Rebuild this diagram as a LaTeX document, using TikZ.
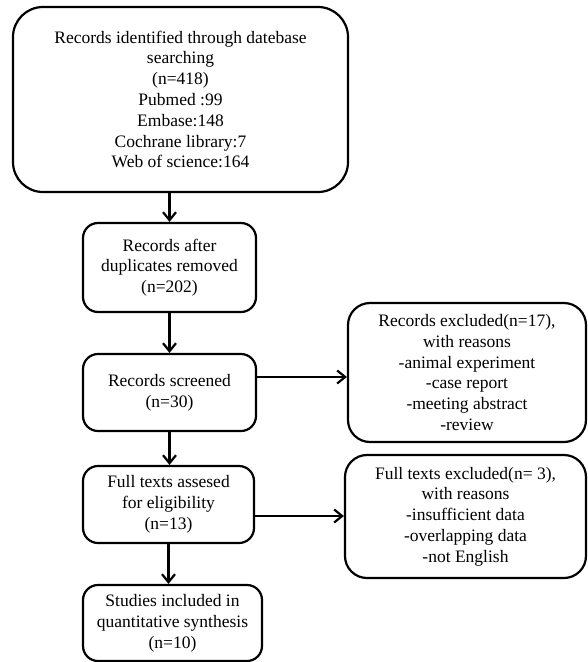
\documentclass[tikz,border=0pt]{standalone}
\usepackage{fontspec}
\setmainfont{Liberation Serif}
\usetikzlibrary{arrows.meta,calc}
\begin{document}
\begin{tikzpicture}[x=1pt,y=-1pt,
  box/.style={draw=black, line width=2.2pt, align=center, inner sep=0pt,
    font=\fontsize{17.5}{20.8}\selectfont},
  arr/.style={line width=2.2pt, -{Straight Barb[length=8pt,width=13pt]}}]
\useasboundingbox (0,0) rectangle (587,662);
\node[box, rounded corners=30pt, minimum width=335pt, minimum height=185pt] (b1) at (180.5,99.5)
  {Records identified through datebase\\searching\\(n=418)\\Pubmed :99\\Embase:148\\Cochrane library:7\\Web of science:164};
\node[box, rounded corners=15pt, minimum width=173pt, minimum height=89pt] (b2) at (169.5,267.5)
  {Records after\\duplicates removed\\(n=202)};
\node[box, rounded corners=15pt, minimum width=173pt, minimum height=77pt] (b3) at (169.5,392.5)
  {Records screened\\(n=30)};
\node[box, rounded corners=15pt, minimum width=171pt, minimum height=77pt] (b4) at (168.5,504.5)
  {Full texts assesed\\for eligibility\\(n=13)};
\node[box, rounded corners=15pt, minimum width=179pt, minimum height=76pt] (b5) at (172.5,623)
  {Studies included in\\quantitative synthesis\\(n=10)};
\node[box, rounded corners=22pt, minimum width=238pt, minimum height=139pt] (r1) at (467,372.5)
  {Records excluded(n=17),\\with reasons\\-animal experiment\\-case report\\-meeting abstract\\-review};
\node[box, rounded corners=22pt, minimum width=241pt, minimum height=123pt] (r2) at (465.5,516.5)
  {Full texts excluded(n= 3),\\with reasons\\-insufficient data\\-overlapping data\\-not English};
\draw[arr] (b2.north |- b1.south) -- (b2.north);
\draw[arr] (b2.south) -- (b3.north);
\draw[arr] (b3.south) -- (b3.south |- b4.north);
\draw[arr] (b4.south) -- (b4.south |- b5.north);
\draw[arr] ([yshift=15.5pt]b3.east) -- ([yshift=15.5pt]b3.east -| r1.west);
\draw[arr] ([yshift=-11.5pt]b4.east) -- ([yshift=-11.5pt]b4.east -| r2.west);
\end{tikzpicture}
\end{document}
